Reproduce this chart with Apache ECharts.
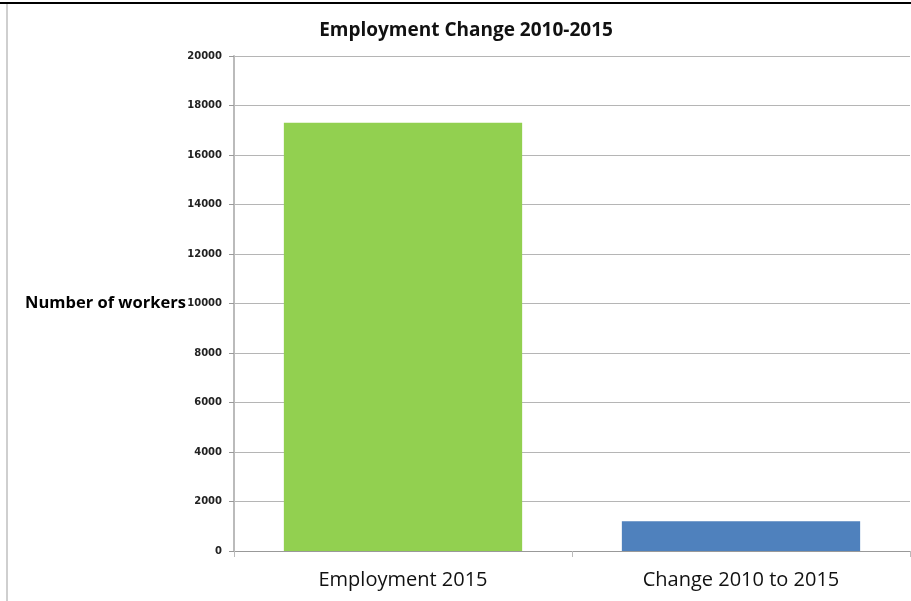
<!DOCTYPE html>
<html>
<head>
<meta charset="utf-8">
<script src="https://cdn.jsdelivr.net/npm/echarts@6/dist/echarts.min.js"></script>
<style>
html,body{margin:0;padding:0;background:#fff;}
#chart{width:911px;height:601px;}
</style>
</head>
<body>
<div id="chart"></div>
<script>
var titleText = 'Employment Change 2010-2015';
var yAxisTitle = 'Number of workers';
var categories = ['Employment 2015', 'Change 2010 to 2015'];
var values = [17300, 1200];
var barColors = ['#92D050', '#4F81BD'];

var chart = echarts.init(document.getElementById('chart'));
chart.setOption({
  animation: false,
  backgroundColor: '#fff',
  title: {
    text: titleText,
    left: 461, top: 16, textAlign: 'center',
    textStyle: {fontFamily: 'Open Sans', fontWeight: 'bold', fontSize: 19, color: '#111'}
  },
  graphic: [
    {type: 'rect', shape: {x: 0, y: 2, width: 911, height: 2}, style: {fill: '#000'}},
    {type: 'rect', shape: {x: 6, y: 4, width: 2, height: 597}, style: {fill: '#cfcfcf'}},
    {type: 'text', left: 25, top: 295, style: {text: yAxisTitle, fontFamily: 'Open Sans', fontWeight: 'bold', fontSize: 16.5, fill: '#000'}}
  ],
  grid: {left: 234, right: 1, top: 56, bottom: 50},
  xAxis: {
    type: 'category',
    data: categories,
    axisLine: {lineStyle: {color: '#999', width: 1}},
    axisTick: {show: true, length: 6, lineStyle: {color: '#bbb'}},
    axisLabel: {fontFamily: 'Open Sans', fontSize: 20, color: '#111', margin: 19}
  },
  yAxis: {
    type: 'value', min: 0, max: 20000, interval: 2000,
    axisLine: {show: true, lineStyle: {color: '#bbb', width: 2}},
    axisTick: {show: true, length: 5, lineStyle: {color: '#999'}},
    axisLabel: {fontFamily: 'DejaVu Sans', fontWeight: 'bold', fontSize: 10, color: '#222', margin: 12,
      formatter: function (v) { return String(v); }},
    splitLine: {lineStyle: {color: '#b5b5b5', width: 1}}
  },
  series: [{
    type: 'bar',
    barWidth: '70.5%',
    data: values.map(function (v, i) { return {value: v, itemStyle: {color: barColors[i]}}; })
  }]
});
</script>
</body>
</html>
